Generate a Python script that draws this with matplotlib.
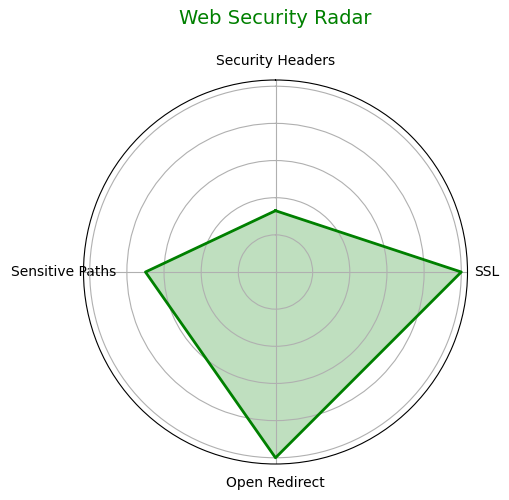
import matplotlib
matplotlib.use("Agg")
import matplotlib.pyplot as plt
import numpy as np

categories = ['Security Headers', 'SSL', 'Open Redirect', 'Sensitive Paths']
scores = [33, 100, 100, 70]

n = len(categories)
angles = np.linspace(0, 2 * np.pi, n, endpoint=False).tolist()
vals = scores + scores[:1]
angles += angles[:1]

fig = plt.figure(figsize=(5.09, 5.0), dpi=100)
ax = fig.add_axes([83.5 / 509, 36 / 500, 384 / 509, 384 / 500], polar=True)
ax.set_theta_offset(np.pi / 2)
ax.set_theta_direction(-1)

ax.plot(angles, vals, color='green', linewidth=2)
ax.fill(angles, vals, color='green', alpha=0.25)

ax.set_xticks(angles[:-1])
ax.set_xticklabels(categories)
ax.set_yticklabels([])
ax.set_title('Web Security Radar', color='green', fontsize=14, y=1.125)

fig.savefig('out.png', dpi=100)
